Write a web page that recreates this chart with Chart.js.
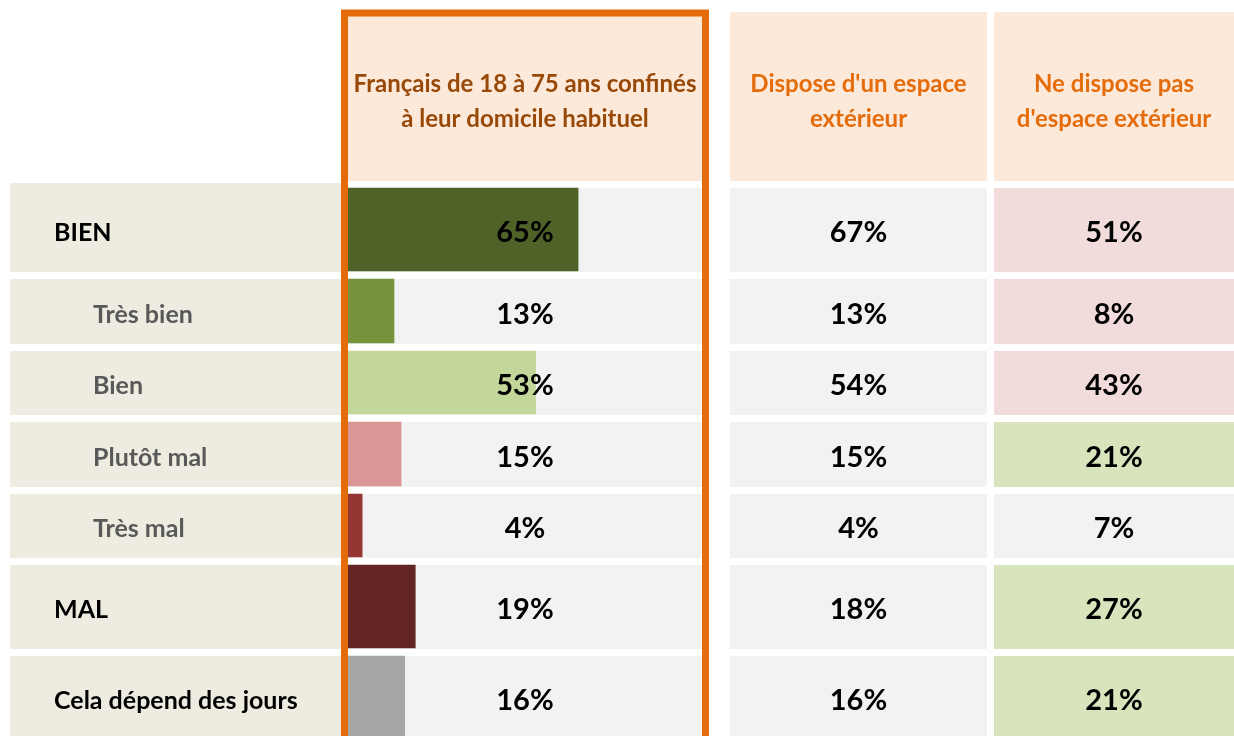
<!DOCTYPE html>
<html>
<head>
<meta charset="utf-8">
<script src="https://cdn.jsdelivr.net/npm/chart.js@4.4.1/dist/chart.umd.min.js"></script>
<style>
  html, body { margin: 0; padding: 0; background: #fff; }
  #wrap { width: 1234px; height: 736px; position: relative; }
</style>
</head>
<body>
<div id="wrap"><canvas id="myChart"></canvas></div>
<script>
// data
const categories = ['BIEN', 'Très bien', 'Bien', 'Plutôt mal', 'Très mal', 'MAL', 'Cela dépend des jours']
const totalValues = [65, 13, 53, 15, 4, 19, 16]
const outdoorValues = [67, 13, 54, 15, 4, 18, 16]
const noOutdoorValues = [51, 8, 43, 21, 7, 27, 21]
const columnTitles = [
    ['Français de 18 à 75 ans confinés', 'à leur domicile habituel'],
    ["Dispose d'un espace", 'extérieur'],
    ['Ne dispose pas', "d'espace extérieur"]
]

// styles / layout
const isSubItem = [false, true, true, true, true, false, false]
const barColors = ['#4F6228', '#77933C', '#C4D79B', '#DA9694', '#963634', '#632523', '#A6A6A6']
const noOutdoorFills = ['#F2DCDB', '#F2DCDB', '#F2DCDB', '#D8E4BC', '#F2F2F2', '#D8E4BC', '#D8E4BC']
const rowHeights = [84, 65, 64, 65, 64, 84, 84]
const firstRowTop = 188
const rowGap = 7
const FONT = 'Lato, "Open Sans", sans-serif'

const rowTops = []
let t = firstRowTop
rowHeights.forEach(h => { rowTops.push(t); t += h + rowGap })
const rowCenters = rowTops.map((top, i) => top + rowHeights[i] / 2)

const col2 = { left: 730, right: 987 }
const col3 = { left: 994, right: 1234 }
const labelCol = { left: 10, right: 341 }

const datasets = categories.map((c, i) => ({
    label: c,
    data: [{ x: totalValues[i], y: rowCenters[i] - 0.5 }],
    backgroundColor: barColors[i],
    barThickness: rowHeights[i] - 1,
    grouped: false
}))

const tablePlugin = {
    id: 'tablePlugin',
    beforeDatasetsDraw(chart) {
        const c = chart.ctx
        const x = chart.scales.x
        const left = x.getPixelForValue(0), right = x.getPixelForValue(100)
        c.save()
        // headers
        c.fillStyle = '#FCE9DA'
        c.fillRect(left, 15, right - left, 166)
        c.fillRect(col2.left, 12, col2.right - col2.left, 169)
        c.fillRect(col3.left, 12, col3.right - col3.left, 169)
        const heads = [[(left + right) / 2, '#984807'], [(col2.left + col2.right) / 2, '#E46C0A'], [(col3.left + col3.right) / 2, '#E46C0A']]
        c.font = 'bold 24px ' + FONT
        c.textAlign = 'center'
        c.textBaseline = 'alphabetic'
        heads.forEach((h, k) => {
            c.fillStyle = h[1]
            columnTitles[k].forEach((line, j) => c.fillText(line, h[0], 92 + j * 35))
        })
        // cells
        rowTops.forEach((top, i) => {
            const h = rowHeights[i]
            c.fillStyle = '#EEECE1'
            const lt = i === 0 ? top - 5 : top
            c.fillRect(labelCol.left, lt, labelCol.right - labelCol.left, h + top - lt)
            c.fillStyle = '#F2F2F2'
            c.fillRect(left, top, right - left, h)
            c.fillRect(col2.left, top, col2.right - col2.left, h)
            c.fillStyle = noOutdoorFills[i]
            c.fillRect(col3.left, top, col3.right - col3.left, h)
        })
        c.restore()
    },
    afterDatasetsDraw(chart) {
        const c = chart.ctx
        const x = chart.scales.x
        const left = x.getPixelForValue(0), right = x.getPixelForValue(100)
        c.save()
        c.textBaseline = 'middle'
        rowCenters.forEach((y, i) => {
            // labels
            c.textAlign = 'left'
            c.font = 'bold 25px ' + FONT
            c.fillStyle = isSubItem[i] ? '#595959' : '#000000'
            c.fillText(categories[i], isSubItem[i] ? 93 : 54, y + 3)
            // values
            c.textAlign = 'center'
            c.font = 'bold 29px ' + FONT
            c.fillStyle = '#000000'
            c.fillText(totalValues[i] + '%', (left + right) / 2, y + 3)
            c.fillText(outdoorValues[i] + '%', (col2.left + col2.right) / 2, y + 3)
            c.fillText(noOutdoorValues[i] + '%', (col3.left + col3.right) / 2, y + 3)
        })
        // orange frame round the first column
        c.strokeStyle = '#E36C09'
        c.lineWidth = 7
        c.strokeRect(left - 3.5, 13, right - left + 7, 760)
        c.restore()
    }
}

new Chart('myChart', {
    type: 'bar',
    data: { datasets: datasets },
    options: {
        indexAxis: 'y',
        responsive: true,
        maintainAspectRatio: false,
        animation: false,
        layout: { padding: { left: 348, right: 532, top: 0, bottom: 0 } },
        scales: {
            x: { type: 'linear', min: 0, max: 100, display: false },
            y: { type: 'linear', min: 0, max: 736, reverse: true, offset: false, display: false }
        },
        plugins: {
            legend: { display: false },
            tooltip: { enabled: false }
        }
    },
    plugins: [tablePlugin]
})
</script>
</body>
</html>
